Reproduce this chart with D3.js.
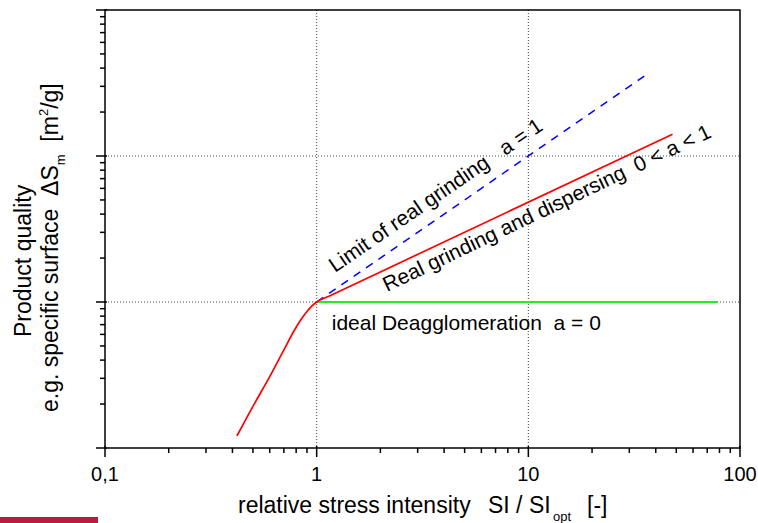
<!DOCTYPE html>
<html>
<head>
<meta charset="utf-8">
<script src="https://cdn.jsdelivr.net/npm/d3@7"></script>
<style>
  html, body { margin: 0; padding: 0; background: #fff; }
  svg text { font-family: "Liberation Sans", Arial, sans-serif; fill: #000; white-space: pre; }
</style>
</head>
<body>
<svg id="chart" width="758" height="523"></svg>
<script>
// ---- data ----
const xMajor = [0.1, 1, 10, 100];
const xTickLabels = ["0,1", "1", "10", "100"];
const yMajor = [1, 10, 100, 1000];
const gridX = [1, 10];
const gridY = [10, 100];

const redX = [0.42, 0.5, 0.6, 0.7, 0.78, 0.85, 0.9, 0.95, 1.0, 1.15, 48];
const redY = [1.21, 1.93, 3.08, 4.7, 6.3, 7.7, 8.6, 9.4, 10, 11.0, 141];
const blueX = [1, 36];
const blueY = [10, 360];
const greenX = [1, 78];
const greenY = [10, 10];

const labelTexts = ["Limit of real grinding   a = 1", "Real grinding and dispersing  0 < a < 1", "ideal Deagglomeration  a = 0"];
const labelX = [1.22, 2.15, 1.178];
const labelY = [15.8, 11.7, 6.43];
const labelAngle = [-34.5, -25.5, 0];

// ---- layout ----
const W = 758, H = 523;
const L = 105, R = 740, T = 10, B = 448;
const svg = d3.select("#chart");

const x = d3.scaleLog().domain([0.1, 100]).range([L, R]);
const y = d3.scaleLog().domain([1, 1000]).range([B, T]);

// grid
svg.append("g").selectAll("line").data(gridX).join("line")
  .attr("x1", d => x(d)).attr("x2", d => x(d))
  .attr("y1", T).attr("y2", B)
  .attr("stroke", "#444").attr("stroke-width", 1).attr("stroke-dasharray", "1,2");
svg.append("g").selectAll("line").data(gridY).join("line")
  .attr("x1", L).attr("x2", R)
  .attr("y1", d => y(d)).attr("y2", d => y(d))
  .attr("stroke", "#444").attr("stroke-width", 1).attr("stroke-dasharray", "1,2");

// curves
const line = d3.line().x(d => x(d[0])).y(d => y(d[1]));
svg.append("path").datum(greenX.map((v, i) => [v, greenY[i]]))
  .attr("d", line).attr("fill", "none").attr("stroke", "#22ee22").attr("stroke-width", 2);
svg.append("path").datum(blueX.map((v, i) => [v, blueY[i]]))
  .attr("d", line).attr("fill", "none").attr("stroke", "#0000ff").attr("stroke-width", 1.5)
  .attr("stroke-dasharray", "8,7");
svg.append("path").datum(redX.map((v, i) => [v, redY[i]]))
  .attr("d", line.curve(d3.curveMonotoneX)).attr("fill", "none").attr("stroke", "#ff0000").attr("stroke-width", 1.7);

// frame
svg.append("rect").attr("x", L).attr("y", T).attr("width", R - L).attr("height", B - T)
  .attr("fill", "none").attr("stroke", "#000").attr("stroke-width", 1.5);

// x ticks
const xAll = x.ticks();
svg.append("g").selectAll("line").data(xAll).join("line")
  .attr("x1", d => x(d)).attr("x2", d => x(d))
  .attr("y1", d => xMajor.includes(d) ? B - 2 : B)
  .attr("y2", d => xMajor.includes(d) ? B + 9 : B + 5)
  .attr("stroke", "#000").attr("stroke-width", 1.5);
svg.append("g").selectAll("text").data(xMajor).join("text")
  .attr("x", d => x(d)).attr("y", 481)
  .attr("text-anchor", "middle").attr("font-size", 20)
  .text((d, i) => xTickLabels[i]);

// y ticks
const yAll = y.ticks();
svg.append("g").selectAll("line").data(yAll).join("line")
  .attr("y1", d => y(d)).attr("y2", d => y(d))
  .attr("x1", d => yMajor.includes(d) ? L - 9 : L - 5)
  .attr("x2", d => yMajor.includes(d) ? L + 2 : L)
  .attr("stroke", "#000").attr("stroke-width", 1.5);

// annotations
svg.append("g").selectAll("text").data(labelTexts).join("text")
  .attr("transform", (d, i) => `translate(${x(labelX[i])},${y(labelY[i])}) rotate(${labelAngle[i]})`)
  .attr("font-size", 21)
  .text(d => d);

// x title
const xt = svg.append("g").attr("font-size", 23);
xt.append("text").attr("x", 238).attr("y", 513).text("relative stress intensity");
xt.append("text").attr("x", 488).attr("y", 513).text("SI / SI");
xt.append("text").attr("x", 553).attr("y", 521).attr("font-size", 13).text("opt");
xt.append("text").attr("x", 587).attr("y", 513).text("[-]");

// y title
svg.append("text").attr("transform", "translate(31,337) rotate(-90)").attr("font-size", 23)
  .text("Product quality");
const yt = svg.append("text").attr("transform", "translate(58,412) rotate(-90)").attr("font-size", 23);
yt.append("tspan").text("e.g. specific surface  ΔS");
yt.append("tspan").attr("font-size", 13).attr("dy", 7).text("m");
yt.append("tspan").attr("dy", -7).text("  [m");
yt.append("tspan").attr("font-size", 13).attr("dy", -10).text("2");
yt.append("tspan").attr("dy", 10).text("/g]");

// decorative bar bottom-left
svg.append("rect").attr("x", 0).attr("y", 517).attr("width", 98).attr("height", 6).attr("fill", "#c0183c");
</script>
</body>
</html>
